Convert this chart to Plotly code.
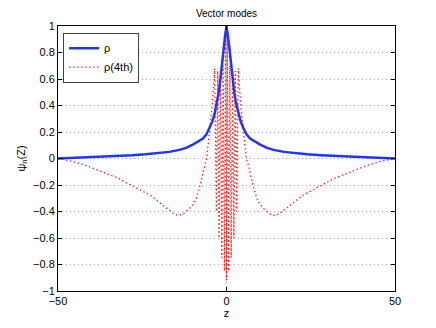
import plotly.graph_objects as go

# rho (blue, solid)
z_rho = [-50, -43, -38, -33, -28, -24, -20, -17, -14, -12, -10, -8.5, -7, -6, -5,
         -4.2, -3.5, -2.8, -2.3, -1.8, -1.3, -0.8, -0.4, 0,
         0.4, 0.8, 1.3, 1.8, 2.3, 2.8, 3.5, 4.2, 5, 6, 7, 8.5, 10, 12, 14, 17, 20,
         24, 28, 33, 38, 43, 50]
rho = [0.0, 0.007, 0.012, 0.018, 0.025, 0.032, 0.04, 0.05, 0.065, 0.08, 0.105,
       0.125, 0.15, 0.18, 0.23, 0.28, 0.34, 0.42, 0.5, 0.6, 0.73, 0.85, 0.93, 1.0,
       0.93, 0.85, 0.73, 0.6, 0.5, 0.42, 0.34, 0.28, 0.23, 0.18, 0.15, 0.125,
       0.105, 0.08, 0.065, 0.05, 0.04, 0.032, 0.025, 0.018, 0.012, 0.007, 0.0]

# rho(4th) (red, dotted)
z_rho4 = [-50, -46, -42, -38, -35, -32, -30, -27.5, -25, -22.5, -20, -17.5, -15.5,
          -14.2, -13, -11.5, -10, -9, -8, -7.1, -6.6, -5.9, -5.0, -4.2, -3.5,
          -3.0, -2.6, -2.2, -1.8, -1.4, -1.0, -0.6, -0.25, 0, 0.25, 0.6, 1.0, 1.4,
          1.8, 2.2, 2.6, 3.0,
          3.5, 4.2, 5.0, 5.9, 6.6, 7.1, 8, 9, 10, 11.5, 13, 14.2, 15.5, 17.5, 20,
          22.5, 25, 27.5, 30, 32, 35, 38, 42, 46, 50]
rho4 = [0.0, -0.02, -0.05, -0.09, -0.12, -0.15, -0.18, -0.21, -0.245, -0.28,
        -0.33, -0.38, -0.42, -0.43, -0.42, -0.39, -0.35, -0.3, -0.22, -0.12,
        -0.06, 0.0, 0.21, 0.41, 0.68,
        -0.4, 0.66, -0.6, 0.66, -0.75, 0.7, -0.85, 0.98, -0.92, 0.98, -0.85, 0.7,
        -0.75, 0.66, -0.6, 0.66, -0.4,
        0.68, 0.41, 0.21, 0.0, -0.06, -0.12, -0.22, -0.3, -0.35, -0.39, -0.42,
        -0.43, -0.42, -0.38, -0.33, -0.28, -0.245, -0.21, -0.18, -0.15, -0.12,
        -0.09, -0.05, -0.02, 0.0]

y_ticks = [-1, -0.8, -0.6, -0.4, -0.2, 0, 0.2, 0.4, 0.6, 0.8, 1]
y_labels = ["\u22121", "\u22120.8", "\u22120.6", "\u22120.4", "\u22120.2", "0",
            "0.2", "0.4", "0.6", "0.8", "1"]
x_ticks = [-50, 0, 50]
x_labels = ["\u221250", "0", "50"]

fig = go.Figure()
fig.add_trace(go.Scatter(
    x=z_rho4, y=rho4, mode="lines", name="\u03c1(4th)",
    line=dict(color="#ff2020", width=1.3, dash="1.5px,2.5px"),
))
fig.add_trace(go.Scatter(
    x=z_rho, y=rho, mode="lines", name="\u03c1",
    line=dict(color="#1f35ff", width=2.5),
))

axis_common = dict(
    showline=True, linecolor="black", linewidth=1, mirror="allticks",
    ticks="inside", ticklen=4, tickcolor="black",
    showgrid=True, gridcolor="#a8a8a8", griddash="1px,3px", gridwidth=1,
    zeroline=False, tickfont=dict(size=11, color="black"),
)

fig.update_xaxes(
    range=[-50, 50], tickvals=x_ticks, ticktext=x_labels,
    title=dict(text="z", font=dict(size=11, color="black"), standoff=0),
    **axis_common,
)
fig.update_yaxes(
    range=[-1, 1], tickvals=y_ticks, ticktext=y_labels,
    title=dict(text="\u03c8<sub>n</sub>(Z)", font=dict(size=11, color="black"), standoff=5),
    **axis_common,
)

# page body has an 8px margin, so the figure is a bit smaller than the window
fig.update_layout(
    width=428, height=320,
    margin=dict(l=49, r=41, t=16, b=37),
    paper_bgcolor="white", plot_bgcolor="white",
    font=dict(family="Liberation Sans, Arial, sans-serif", size=11, color="black"),
    title=dict(text="Vector modes", x=0.5, xref="paper", xanchor="center",
               y=0.995, yanchor="top", pad=dict(t=0),
               font=dict(size=10, color="black")),
    legend=dict(
        x=0.015, y=0.975, xanchor="left", yanchor="top",
        bgcolor="white", bordercolor="#404040", borderwidth=1,
        traceorder="reversed", font=dict(size=11),
        tracegroupgap=0, itemwidth=30,
    ),
    showlegend=True,
)

fig.write_html("out.html")
